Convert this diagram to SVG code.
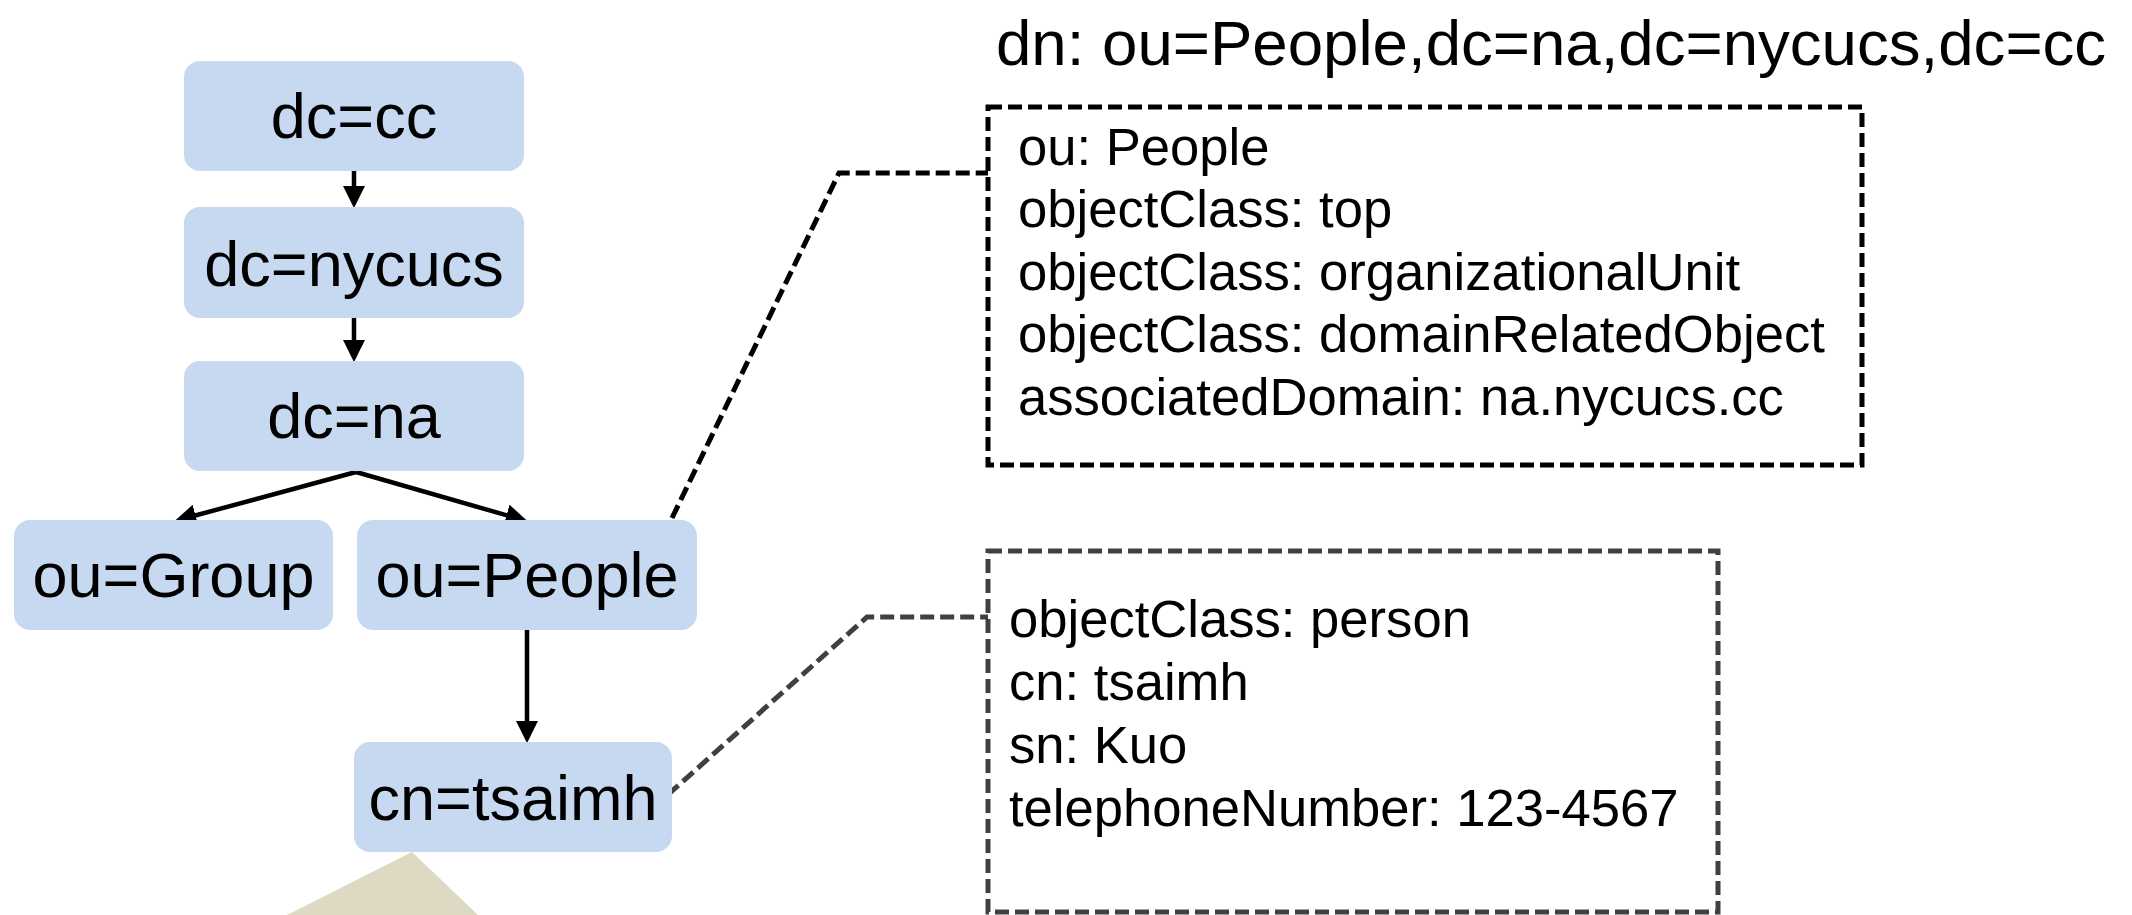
<svg xmlns="http://www.w3.org/2000/svg" width="2132" height="915" viewBox="0 0 2132 915">
<style>
.node{fill:#C6D9F1;}
.nt{font-family:"Liberation Sans",Arial,sans-serif;font-size:63px;fill:#000;text-anchor:middle;}
.bt{font-family:"Liberation Sans",Arial,sans-serif;font-size:52.6px;fill:#000;}
.title{font-family:"Liberation Sans",Arial,sans-serif;font-size:63.6px;fill:#000;}
.arrow{stroke:#000;stroke-width:4.5;fill:none;marker-end:url(#ah);}
.dash1{stroke:#000;stroke-width:5;fill:none;stroke-dasharray:14 6;}
.dash2{stroke:#404040;stroke-width:5;fill:none;stroke-dasharray:14 6;}
</style>
<defs>
<marker id="ah" markerUnits="userSpaceOnUse" markerWidth="22" markerHeight="22" viewBox="0 0 20 20" refX="9" refY="10" orient="auto">
<path d="M0,0 L20,10 L0,20 Z" fill="#000"/>
</marker>
</defs>
<rect width="2132" height="915" fill="#fff"/>
<polygon points="412,852 287,915 478,915" fill="#DDD9C3"/>
<text class="title" x="996" y="65">dn: ou=People,dc=na,dc=nycucs,dc=cc</text>
<g id="connectors">
<line class="arrow" x1="354" y1="171" x2="354" y2="196"/>
<line class="arrow" x1="354" y1="318" x2="354" y2="350"/>
<line class="arrow" x1="356" y1="472" x2="186" y2="518"/>
<line class="arrow" x1="356" y1="472" x2="516" y2="518"/>
<line class="arrow" x1="527" y1="630" x2="527" y2="731"/>
<polyline class="dash1" points="672,518 839,173 988,173"/>
<polyline class="dash2" points="653,808 867,617 988,617"/>
</g>
<g id="n-dc-cc"><rect class="node" x="184" y="61" width="340" height="110" rx="16"/><text class="nt" x="354" y="138">dc=cc</text></g>
<g id="n-dc-nycucs"><rect class="node" x="184" y="207" width="340" height="111" rx="16"/><text class="nt" x="354" y="286">dc=nycucs</text></g>
<g id="n-dc-na"><rect class="node" x="184" y="361" width="340" height="110" rx="16"/><text class="nt" x="354" y="438">dc=na</text></g>
<g id="n-ou-group"><rect class="node" x="14" y="520" width="319" height="110" rx="16"/><text class="nt" x="173.5" y="597">ou=Group</text></g>
<g id="n-ou-people"><rect class="node" x="357" y="520" width="340" height="110" rx="16"/><text class="nt" x="527" y="597">ou=People</text></g>
<g id="n-cn-tsaimh"><rect class="node" x="354" y="742" width="318" height="110" rx="16"/><text class="nt" x="513" y="820">cn=tsaimh</text></g>
<g id="box-people">
<rect class="dash1" x="988" y="107" width="874" height="358"/>
<text class="bt" x="1018" y="165">ou: People</text>
<text class="bt" x="1018" y="227">objectClass: top</text>
<text class="bt" x="1018" y="290">objectClass: organizationalUnit</text>
<text class="bt" x="1018" y="352">objectClass: domainRelatedObject</text>
<text class="bt" x="1018" y="415">associatedDomain: na.nycucs.cc</text>
</g>
<g id="box-tsaimh">
<rect class="dash2" x="988" y="551" width="730" height="361"/>
<text class="bt" x="1009" y="637">objectClass: person</text>
<text class="bt" x="1009" y="700">cn: tsaimh</text>
<text class="bt" x="1009" y="763">sn: Kuo</text>
<text class="bt" x="1009" y="826">telephoneNumber: 123-4567</text>
</g>
</svg>
